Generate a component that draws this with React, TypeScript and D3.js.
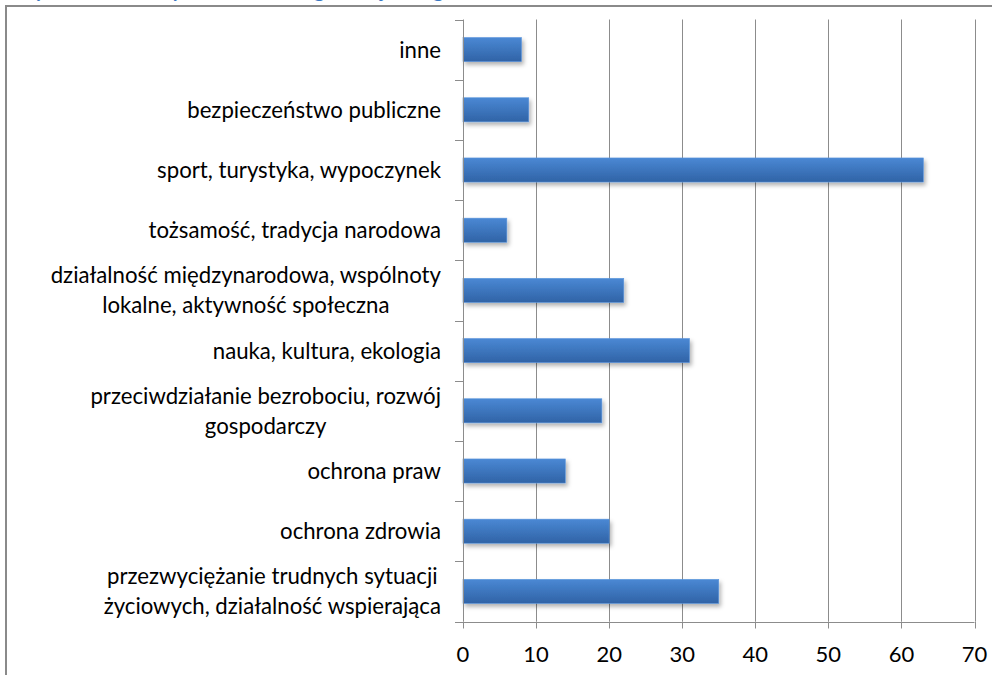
import React, { useEffect, useRef } from "react";
import * as d3 from "d3";

const categories: string[][] = [
  ["inne"],
  ["bezpieczeństwo publiczne"],
  ["sport, turystyka, wypoczynek"],
  ["tożsamość, tradycja narodowa"],
  ["działalność międzynarodowa, wspólnoty", "lokalne, aktywność społeczna"],
  ["nauka, kultura, ekologia"],
  ["przeciwdziałanie bezrobociu, rozwój", "gospodarczy"],
  ["ochrona praw"],
  ["ochrona zdrowia"],
  ["przezwyciężanie trudnych sytuacji", "życiowych, działalność wspierająca"],
];
const values: number[] = [8, 9, 63, 6, 22, 31, 19, 14, 20, 35];
const xTicks: number[] = [0, 10, 20, 30, 40, 50, 60, 70];
const titleText = "Wykres 7. Obszary działalności organizacji w regionie";

const W = 992;
const H = 675;
const FONT = "Lato, 'Noto Sans', sans-serif";
const FS = 22.2;

export default function App() {
  const ref = useRef<SVGSVGElement | null>(null);

  useEffect(() => {
    const svg = d3.select(ref.current);
    svg.selectAll("*").remove();

    const defs = svg.append("defs");
    const grad = defs
      .append("linearGradient")
      .attr("id", "barGrad")
      .attr("x1", 0).attr("y1", 0).attr("x2", 0).attr("y2", 1);
    grad.append("stop").attr("offset", "0%").attr("stop-color", "#4a88d4");
    grad.append("stop").attr("offset", "100%").attr("stop-color", "#3063a6");
    const filt = defs
      .append("filter")
      .attr("id", "shadow")
      .attr("x", "-10%").attr("y", "-30%").attr("width", "130%").attr("height", "180%");
    filt
      .append("feDropShadow")
      .attr("dx", 2).attr("dy", 3).attr("stdDeviation", 2.2)
      .attr("flood-color", "#000").attr("flood-opacity", 0.3);

    svg.append("rect").attr("width", W).attr("height", H).attr("fill", "#fff");

    // partially visible title (cut off at the top, as in the source)
    svg
      .append("text")
      .attr("x", 14)
      .attr("y", -3)
      .attr("font-family", FONT)
      .attr("font-size", 20)
      .attr("font-weight", "bold")
      .attr("fill", "#3a78c3")
      .text(titleText);

    // outer frame
    svg
      .append("rect")
      .attr("x", 6).attr("y", 6)
      .attr("width", W + 20).attr("height", H + 20)
      .attr("fill", "none")
      .attr("stroke", "#8a8a8a")
      .attr("stroke-width", 2);

    const x0 = 463;
    const x1 = 974.5;
    const yTop = 19.5;
    const yBot = 621.5;

    const x = d3.scaleLinear().domain([0, 70]).range([x0, x1]);
    const y = d3
      .scaleBand<number>()
      .domain(d3.range(categories.length))
      .range([yTop, yBot])
      .paddingInner(0.6)
      .paddingOuter(0.3);
    const band = (yBot - yTop) / categories.length;

    // gridlines
    svg
      .append("g")
      .selectAll("line")
      .data(xTicks.filter((t) => t > 0))
      .join("line")
      .attr("x1", (d) => Math.round(x(d)) + 0.5)
      .attr("x2", (d) => Math.round(x(d)) + 0.5)
      .attr("y1", yTop)
      .attr("y2", yBot)
      .attr("stroke", "#8c8c8c")
      .attr("stroke-width", 1);

    // bars
    svg
      .append("g")
      .selectAll("rect")
      .data(values)
      .join("rect")
      .attr("x", x(0))
      .attr("y", (_, i) => y(i)!)
      .attr("width", (d) => x(d) - x(0))
      .attr("height", y.bandwidth())
      .attr("fill", "url(#barGrad)")
      .attr("stroke", "#5b95dc")
      .attr("stroke-width", 0.6)
      .attr("filter", "url(#shadow)");

    // value axis
    const ax = svg.append("g").attr("stroke", "#8c8c8c").attr("stroke-width", 1);
    ax.append("line")
      .attr("x1", x0).attr("x2", x1)
      .attr("y1", Math.round(yBot) + 0.5).attr("y2", Math.round(yBot) + 0.5);
    ax.selectAll("line.tk")
      .data(xTicks)
      .join("line")
      .attr("class", "tk")
      .attr("x1", (d) => Math.round(x(d)) + 0.5)
      .attr("x2", (d) => Math.round(x(d)) + 0.5)
      .attr("y1", yBot)
      .attr("y2", yBot + 7);
    // category axis
    ax.append("line")
      .attr("x1", Math.round(x0) + 0.5).attr("x2", Math.round(x0) + 0.5)
      .attr("y1", yTop).attr("y2", yBot);
    ax.selectAll("line.ct")
      .data(d3.range(categories.length + 1))
      .join("line")
      .attr("class", "ct")
      .attr("x1", x0 - 8)
      .attr("x2", x0)
      .attr("y1", (d) => Math.round(yTop + d * band) + 0.5)
      .attr("y2", (d) => Math.round(yTop + d * band) + 0.5);

    // x tick labels
    svg
      .append("g")
      .selectAll("text")
      .data(xTicks)
      .join("text")
      .attr("x", (d) => x(d))
      .attr("y", 662)
      .attr("text-anchor", "middle")
      .attr("font-family", FONT)
      .attr("font-size", 22)
      .attr("fill", "#000")
      .text((d) => String(d));

    // category labels
    const labelRight = 441;
    const lineH = 30;
    const lg = svg.append("g");
    categories.forEach((lines, i) => {
      const cy = yTop + (i + 0.5) * band;
      const texts = lines.map((ln, j) =>
        lg
          .append("text")
          .attr("font-family", FONT)
          .attr("font-size", FS)
          .attr("fill", "#000")
          .attr("text-anchor", "middle")
          .attr("y", cy + (j - (lines.length - 1) / 2) * lineH + FS * 0.36)
          .text(ln)
      );
      const widths = texts.map((t) => (t.node() as SVGTextElement).getComputedTextLength());
      const maxW = Math.max(...widths);
      texts.forEach((t) => t.attr("x", labelRight - maxW / 2));
    });
  }, []);

  return (
    <svg
      ref={ref}
      width={W}
      height={H}
      style={{ position: "absolute", left: 0, top: 0, display: "block" }}
    />
  );
}
